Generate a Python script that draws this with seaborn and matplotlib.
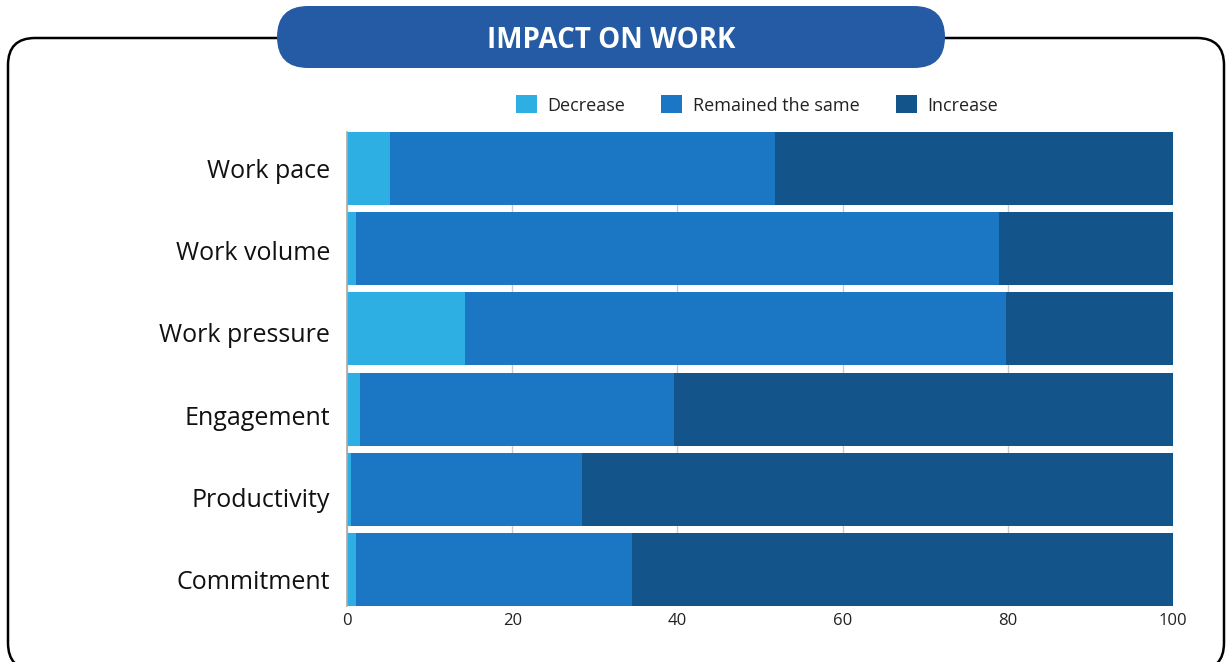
import matplotlib
matplotlib.use("Agg")
import matplotlib.pyplot as plt
from matplotlib.patches import FancyBboxPatch, Patch
from matplotlib.transforms import ScaledTranslation
import numpy as np
import pandas as pd
import seaborn as sns

# Survey shares (%) per aspect of work
categories = ["Work pace", "Work volume", "Work pressure", "Engagement", "Productivity", "Commitment"]
decrease = [5.2, 1.1, 14.3, 1.6, 0.5, 1.1]
remained = [46.6, 77.8, 65.5, 38.0, 28.0, 33.4]
increase = [48.2, 21.1, 20.2, 60.4, 71.5, 65.5]

series_names = ["Decrease", "Remained the same", "Increase"]
colors = ["#2EAFE3", "#1B77C3", "#13548A"]

sns.set_theme(style="white")
plt.rcParams["font.family"] = ["Open Sans", "DejaVu Sans"]

W, H = 1231, 662
fig = plt.figure(figsize=(W / 100, H / 100), dpi=100)

def fx(px):
    return px / W

def fy(py):
    return 1 - py / H

ax = fig.add_axes([fx(347), fy(606), fx(1173) - fx(347), fy(132) - fy(606)])

df = pd.DataFrame({"category": categories, "Decrease": decrease,
                   "Remained the same": remained, "Increase": increase})
# cumulative right edges, drawn back to front so each layer shows its own segment
cum = df[series_names].cumsum(axis=1)
for name, color in reversed(list(zip(series_names, colors))):
    sns.barplot(data=cum.assign(category=df["category"]), x=name, y="category",
                orient="h", color=color, width=0.91, saturation=1,
                edgecolor="none", linewidth=0, ax=ax, zorder=2)

ax.set_xlim(0, 100)
ax.set_ylim(len(categories) - 1 + 0.455, -0.455)
ax.set_xticks([0, 20, 40, 60, 80, 100])
ax.set_xlabel("")
ax.set_ylabel("")
ax.grid(axis="x", color="#CCCCCC", linewidth=1, zorder=0)
ax.set_axisbelow(True)
for side in ["top", "right", "bottom"]:
    ax.spines[side].set_visible(False)
ax.spines["left"].set_color("#AAAAAA")
ax.spines["left"].set_linewidth(1.2)
ax.spines["left"].set_zorder(5)
ax.tick_params(axis="x", length=0, pad=5, labelsize=12, labelcolor="#222222")
ax.tick_params(axis="y", length=0, pad=12, labelsize=18, labelcolor="#111111")

# category labels sit on a slightly wider spacing than the bars
for i, lab in enumerate(ax.get_yticklabels()):
    lab.set_transform(lab.get_transform() + ScaledTranslation(0, -i * 2.0 / 100, fig.dpi_scale_trans))

# legend
handles = [Patch(facecolor=c, edgecolor="none", label=n) for n, c in zip(series_names, colors)]
fig.legend(handles=handles, loc="center", bbox_to_anchor=(fx(757), fy(105)), ncol=3,
           frameon=False, fontsize=13, handlelength=1.15, handleheight=1.15,
           handletextpad=0.6, columnspacing=2.0, labelcolor="#222222")

# outer rounded frame
frame = FancyBboxPatch((fx(8), fy(670)), fx(1224) - fx(8), fy(38) - fy(670),
                       boxstyle="round,pad=0,rounding_size=0.022",
                       transform=fig.transFigure, facecolor="none",
                       edgecolor="black", linewidth=1.8, mutation_aspect=W / H,
                       clip_on=False, zorder=0)
fig.patches.append(frame)

# title pill
pill_h = fy(6) - fy(68)
pill = FancyBboxPatch((fx(277), fy(68)), fx(945) - fx(277), pill_h,
                      boxstyle=f"round,pad=0,rounding_size={pill_h / 2 * H / W}",
                      transform=fig.transFigure, facecolor="#245BA4",
                      edgecolor="none", mutation_aspect=W / H, zorder=3)
fig.patches.append(pill)
fig.text(fx(611), fy(37), "IMPACT ON WORK", ha="center", va="center_baseline",
         color="white", fontsize=20, fontweight="bold", zorder=4)

fig.savefig("out.png", dpi=100)
